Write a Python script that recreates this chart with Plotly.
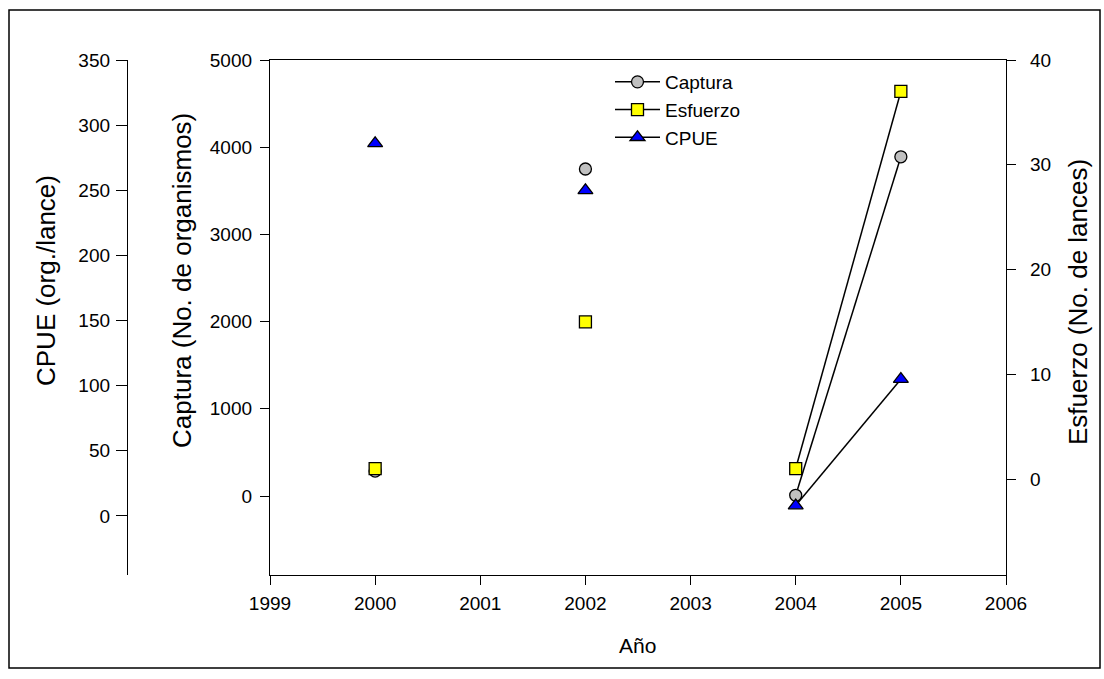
import plotly.graph_objects as go

years = [2000, 2001, 2002, 2003, 2004, 2005]
captura = [286, None, 3750, None, 8, 3890]
esfuerzo = [1, None, 15, None, 1, 37]
cpue = [286, None, 250, None, 8, 105]

x_ticks = [1999, 2000, 2001, 2002, 2003, 2004, 2005, 2006]
captura_ticks = [0, 1000, 2000, 3000, 4000, 5000]
esfuerzo_ticks = [0, 10, 20, 30, 40]
cpue_ticks = [0, 50, 100, 150, 200, 250, 300, 350]

FONT = "Arial, Liberation Sans, sans-serif"
W, H = 1104, 679
L, R, T, B = 0, 0, 60, 104
pl, pr = 270, 1006

fig = go.Figure()
fig.add_trace(go.Scatter(
    x=years, y=captura, name="Captura", mode="lines+markers",
    line=dict(color="black", width=1.5),
    marker=dict(symbol="circle", size=12, color="#c0c0c0", line=dict(color="black", width=1.3)),
    yaxis="y", connectgaps=False))
fig.add_trace(go.Scatter(
    x=years, y=esfuerzo, name="Esfuerzo", mode="lines+markers",
    line=dict(color="black", width=1.5),
    marker=dict(symbol="square", size=12, color="#ffff00", line=dict(color="black", width=1.3)),
    yaxis="y2", connectgaps=False))
fig.add_trace(go.Scatter(
    x=years, y=cpue, name="CPUE", mode="lines+markers",
    line=dict(color="black", width=1.5),
    marker=dict(symbol="triangle-up", size=13, color="#0000ff", line=dict(color="black", width=1.3)),
    yaxis="y3", connectgaps=False))

tickfont = dict(family=FONT, size=19, color="black")
common = dict(showgrid=False, zeroline=False, showline=True, linecolor="black", linewidth=1.3,
              ticks="outside", tickwidth=1.3, tickcolor="black", tickfont=tickfont,
              automargin=False)

fig.update_layout(
    width=W, height=H, autosize=False,
    margin=dict(l=L, r=R, t=T, b=B, pad=0, autoexpand=False),
    paper_bgcolor="white", plot_bgcolor="white",
    font=dict(family=FONT, color="black"),
    xaxis=dict(domain=[pl / W, pr / W], range=[1999, 2006], tickvals=x_ticks,
               mirror=True, ticklen=9, ticklabelstandoff=2, **common),
    yaxis=dict(range=[-906, 5000], tickvals=captura_ticks, anchor="x", side="left",
               ticklen=9, ticklabelstandoff=4, **common),
    yaxis2=dict(range=[-9.16, 40], tickvals=esfuerzo_ticks, anchor="x", side="right",
                overlaying="y", ticklen=9, ticklabelstandoff=10, **common),
    yaxis3=dict(range=[-45.3, 350], tickvals=cpue_ticks, anchor="free", position=127 / W,
                side="left", overlaying="y", ticklen=11, ticklabelstandoff=2, **common),
    legend=dict(x=610 / W, y=(575 - 63) / 515, xanchor="left", yanchor="top",
                bgcolor="rgba(0,0,0,0)", font=dict(family=FONT, size=19, color="black"),
                tracegroupgap=0, itemwidth=45),
    showlegend=True,
)

ph = H - T - B
def py(pix):
    return (H - B - pix) / ph

annots = [
    dict(text="Año", x=637 / W, y=py(645), textangle=0, size=21),
    dict(text="CPUE (org./lance)", x=46 / W, y=py(281), textangle=-90, size=26),
    dict(text="Captura (No. de organismos)", x=182 / W, y=py(281), textangle=-90, size=26),
    dict(text="Esfuerzo (No. de lances)", x=1078 / W, y=py(302), textangle=-90, size=26),
]
for a in annots:
    fig.add_annotation(text=a["text"], x=a["x"], y=a["y"], xref="paper", yref="paper",
                       showarrow=False, textangle=a["textangle"], xanchor="center", yanchor="middle",
                       font=dict(family=FONT, size=a["size"], color="black"))

fig.add_shape(type="rect", xref="paper", yref="paper",
              x0=9 / W, x1=1100 / W, y0=py(668), y1=py(10),
              line=dict(color="black", width=1.5), fillcolor="rgba(0,0,0,0)", layer="below")

fig.write_html("out.html", config={"displayModeBar": False},
               post_script="document.body.style.margin='0';document.body.style.overflow='hidden';")
